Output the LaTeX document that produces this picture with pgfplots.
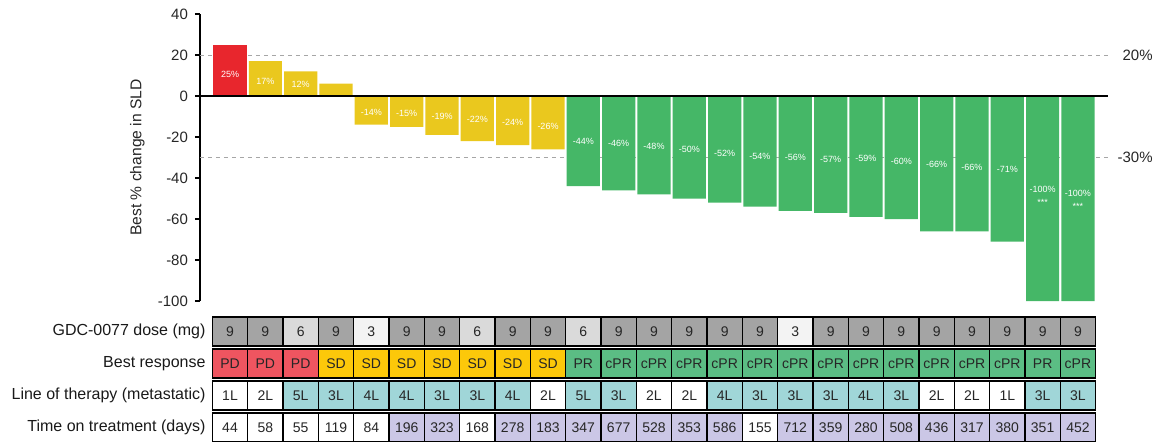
\documentclass[border=0pt]{standalone}
\usepackage{fontspec}
\setmainfont{Liberation Sans}
\usepackage{pgfplots}
\usepackage{pgfplotstable}
\pgfplotsset{compat=1.18}

\definecolor{barred}{HTML}{E8262D}
\definecolor{baryel}{HTML}{EAC81E}
\definecolor{bargrn}{HTML}{45B767}
\definecolor{dose9}{HTML}{A4A4A4}
\definecolor{dose6}{HTML}{DADADA}
\definecolor{dose3}{HTML}{F3F3F3}
\definecolor{respPD}{HTML}{EF5560}
\definecolor{respSD}{HTML}{FCC80A}
\definecolor{respPR}{HTML}{5BBD84}
\definecolor{lotteal}{HTML}{A0D6D8}
\definecolor{dayspur}{HTML}{CBC7E6}

% i: patient, val: best % change in SLD, bc: bar colour group (1 red, 2 yellow, 3 green),
% ly: height of the value label, rc: response group, ln: line of therapy number
\pgfplotstableread{
i  val  bc  ly     resp rc dose lot ln days
0  25   1   10.5   PD   1  9    1L  1  44
1  17   2   7      PD   1  9    2L  2  58
2  12   2   5.5    PD   1  6    5L  5  55
3  6    2   nan    SD   2  9    3L  3  119
4  -14  2   -8     SD   2  3    4L  4  84
5  -15  2   -8.5   SD   2  9    4L  4  196
6  -19  2   -10    SD   2  9    3L  3  323
7  -22  2   -11.5  SD   2  6    3L  3  168
8  -24  2   -13    SD   2  9    4L  4  278
9  -26  2   -15    SD   2  9    2L  2  183
10 -44  3   -22    PR   3  6    5L  5  347
11 -46  3   -23    cPR  3  9    3L  3  677
12 -48  3   -24.5  cPR  3  9    2L  2  528
13 -50  3   -26    cPR  3  9    2L  2  353
14 -52  3   -28    cPR  3  9    4L  4  586
15 -54  3   -29.5  cPR  3  9    3L  3  155
16 -56  3   -30    cPR  3  3    3L  3  712
17 -57  3   -31    cPR  3  9    3L  3  359
18 -59  3   -30.5  cPR  3  9    4L  4  280
19 -60  3   -32    cPR  3  9    3L  3  508
20 -66  3   -33.5  cPR  3  9    2L  2  436
21 -66  3   -35    cPR  3  9    2L  2  317
22 -71  3   -36    cPR  3  9    1L  1  380
23 -100 3   -45.5  PR   3  9    3L  3  351
24 -100 3   -47.5  cPR  3  9    3L  3  452
}\data

\pgfplotsset{
  rowax/.style={
    scale only axis, width=454pt, height=14.5pt,
    xmin=-0.85, xmax=24.85, ymin=0, ymax=1,
    axis lines=none, xtick=\empty, ytick=\empty, clip=false,
    anchor=north west,
    /pgf/number format/assume math mode=true,
  },
  cell/.style={ybar, bar width=1, bar shift=0pt, draw=black, line width=0.7pt},
  celltext/.style={only marks, mark=none, nodes near coords,
    nodes near coords style={anchor=center, font=\fontsize{7}{8}\selectfont, text=black!85}},
}
\tikzset{
  rowlabel/.style={anchor=east, inner sep=0pt, font=\fontsize{8}{9}\selectfont, text=black!90},
}

\begin{document}
\begin{tikzpicture}
\path[use as bounding box] (-100pt,7pt) rectangle (484.5pt,-213.5pt);

% waterfall of best change in tumour size
\begin{axis}[
  name=main, at={(0pt,0pt)}, anchor=north west,
  scale only axis, width=454pt, height=143.5pt,
  xmin=-0.85, xmax=24.85, ymin=-100, ymax=40,
  axis x line=none, axis y line*=left,
  ytick={-100,-80,...,40},
  tick align=outside, major tick length=2.5pt,
  every tick/.style={black, line width=0.6pt},
  axis line style={line width=0.7pt},
  yticklabel style={font=\fontsize{7.5}{9}\selectfont, text=black!85},
  /pgf/number format/assume math mode=true,
  every axis y label/.style={at={(axis description cs:-0.069,0.5)}, rotate=90, anchor=center,
    font=\fontsize{7.8}{9}\selectfont, text=black!85},
  ylabel={Best \% change in SLD},
  clip=false,
]
\addplot[gray!70, dash pattern=on 2pt off 2pt, line width=0.5pt] coordinates {(-0.85,20) (24.85,20)};
\addplot[gray!70, dash pattern=on 2pt off 2pt, line width=0.5pt] coordinates {(-0.85,-30) (24.85,-30)};

\addplot[ybar, bar width=0.94, bar shift=0pt, fill=barred, draw=none,
  restrict expr to domain={\thisrow{bc}}{1:1}] table[x=i, y=val]{\data};
\addplot[ybar, bar width=0.94, bar shift=0pt, fill=baryel, draw=none,
  restrict expr to domain={\thisrow{bc}}{2:2}] table[x=i, y=val]{\data};
\addplot[ybar, bar width=0.94, bar shift=0pt, fill=bargrn, draw=none,
  restrict expr to domain={\thisrow{bc}}{3:3}] table[x=i, y=val]{\data};

\addplot[black, line width=1pt] coordinates {(-0.85,0) (24.85,0)};

% value labels inside the bars
\addplot[only marks, mark=none, point meta=explicit,
  nodes near coords={\pgfmathprintnumber{\pgfplotspointmeta}\%},
  nodes near coords style={anchor=center, text=white, font=\fontsize{4.5}{5}\selectfont}]
  table[x=i, y=ly, meta=val]{\data};
\addplot[only marks, mark=none, nodes near coords={***},
  nodes near coords style={anchor=center, text=white, font=\fontsize{4.5}{5}\selectfont},
  restrict expr to domain={\thisrow{val}}{-101:-99}]
  table[x=i, y expr=\thisrow{ly}-6.5]{\data};

\node[anchor=east, inner sep=0pt, font=\fontsize{7.5}{9}\selectfont, text=black!85]
  at (axis cs:24.85,20) [xshift=22.5pt] {20\%};
\node[anchor=east, inner sep=0pt, font=\fontsize{7.5}{9}\selectfont, text=black!85]
  at (axis cs:24.85,-30) [xshift=22.5pt] {-30\%};
\end{axis}

% dose row
\begin{axis}[rowax, at={(0pt,-151.5pt)}]
\addplot[cell, fill=dose9, restrict expr to domain={\thisrow{dose}}{9:9}] table[x=i, y expr=1]{\data};
\addplot[cell, fill=dose6, restrict expr to domain={\thisrow{dose}}{6:6}] table[x=i, y expr=1]{\data};
\addplot[cell, fill=dose3, restrict expr to domain={\thisrow{dose}}{3:3}] table[x=i, y expr=1]{\data};
\addplot[celltext, point meta=explicit] table[x=i, y expr=0.5, meta=dose]{\data};
\node[rowlabel] at (axis description cs:0.0065,0.5) {GDC-0077 dose (mg)};
\end{axis}

% best response row
\begin{axis}[rowax, at={(0pt,-167.5pt)}]
\addplot[cell, fill=respPD, restrict expr to domain={\thisrow{rc}}{1:1}] table[x=i, y expr=1]{\data};
\addplot[cell, fill=respSD, restrict expr to domain={\thisrow{rc}}{2:2}] table[x=i, y expr=1]{\data};
\addplot[cell, fill=respPR, restrict expr to domain={\thisrow{rc}}{3:3}] table[x=i, y expr=1]{\data};
\addplot[celltext, point meta=explicit symbolic] table[x=i, y expr=0.5, meta=resp]{\data};
\node[rowlabel] at (axis description cs:0.0065,0.5) {Best response};
\end{axis}

% line of therapy row
\begin{axis}[rowax, at={(0pt,-183.5pt)}]
\addplot[cell, fill=white, restrict expr to domain={\thisrow{ln}}{1:2}] table[x=i, y expr=1]{\data};
\addplot[cell, fill=lotteal, restrict expr to domain={\thisrow{ln}}{3:5}] table[x=i, y expr=1]{\data};
\addplot[celltext, point meta=explicit symbolic] table[x=i, y expr=0.5, meta=lot]{\data};
\node[rowlabel] at (axis description cs:0.0065,0.5) {Line of therapy (metastatic)};
\end{axis}

% time on treatment row
\begin{axis}[rowax, at={(0pt,-199.5pt)}]
\addplot[cell, fill=white, restrict expr to domain={\thisrow{days}}{0:180}] table[x=i, y expr=1]{\data};
\addplot[cell, fill=dayspur, restrict expr to domain={\thisrow{days}}{181:1000}] table[x=i, y expr=1]{\data};
\addplot[celltext, point meta=explicit] table[x=i, y expr=0.5, meta=days]{\data};
\node[rowlabel] at (axis description cs:0.0065,0.5) {Time on treatment (days)};
\end{axis}
\end{tikzpicture}
\end{document}
